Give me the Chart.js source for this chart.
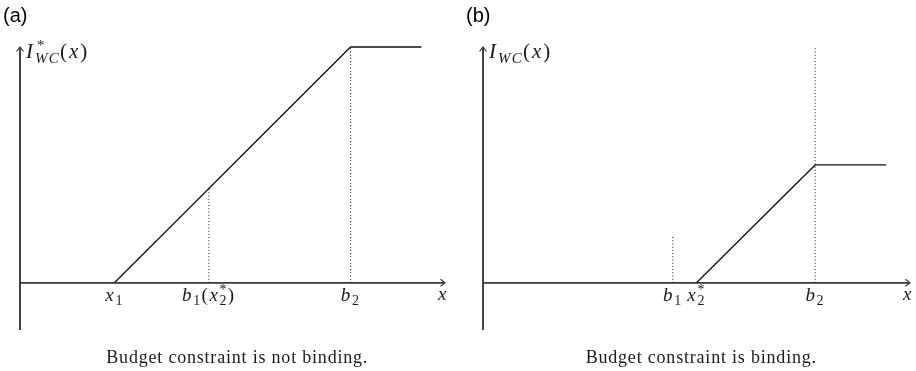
<!DOCTYPE html>
<html>
<head>
<meta charset="utf-8">
<script src="https://cdn.jsdelivr.net/npm/chart.js@4/dist/chart.umd.min.js"></script>
<style>
  body { margin: 0; background: #fff; width: 916px; height: 371px; position: relative; overflow: hidden; }
  .panel { position: absolute; top: 0; height: 371px; }
  #wrapA { left: 0; width: 463px; }
  #wrapB { left: 463px; width: 453px; }
</style>
</head>
<body>
<div class="panel" id="wrapA"><canvas id="graficaA" width="463" height="371"></canvas></div>
<div class="panel" id="wrapB"><canvas id="graficaB" width="453" height="371"></canvas></div>
<script>
// (a) budget constraint not binding
const curveAX = [2, 7, 8.5];
const curveAY = [0, 5, 5];
const guideAX = [4, 7];          // b1(x2*), b2
const guideAY = [2, 5];          // top of each dotted guide
const tickAX = [2, 4, 7];
const tickALabels = ['x_1', 'b_1(x_2^*)', 'b_2'];

// (b) budget constraint binding
const curveBX = [4.5, 7, 8.5];
const curveBY = [0, 2.5, 2.5];
const guideBX = [4, 7];          // b1, b2
const guideBY = [1, 5];
const tickBX = [4, 4.5, 7];
const tickBLabels = ['b_1', 'x_2^*', 'b_2'];

const SERIF = '"Liberation Serif", "DejaVu Serif", serif';
const SANS = '"Liberation Sans", Arial, sans-serif';

// tiny TeX-ish parser: letters italic, _ sub, ^ sup
function parseMath(str) {
    const out = [];
    let i = 0;
    const group = () => {
        if (str[i] === '{') {
            const j = str.indexOf('}', i);
            const g = str.slice(i + 1, j);
            i = j + 1;
            return g;
        }
        return str[i++];
    };
    while (i < str.length) {
        const c = str[i];
        if (c === '_' || c === '^') {
            i++;
            const g = group();
            const last = out[out.length - 1];
            if (c === '_') last.sub = g; else last.sup = g;
        } else {
            out.push({ t: c });
            i++;
        }
    }
    return out;
}

function fontFor(ch, size) {
    return (/[A-Za-z]/.test(ch) ? 'italic ' : '') + size + 'px ' + SERIF;
}

// glyphs get a little extra room, math fonts run wide
function glyphAdv(ctx, ch, size) {
    ctx.font = fontFor(ch, size);
    return ctx.measureText(ch).width + size * 0.09;
}

function runWidth(ctx, s, size) {
    let w = 0;
    for (const ch of s) w += glyphAdv(ctx, ch, size);
    return w;
}

function drawRun(ctx, s, x, y, size) {
    for (const ch of s) {
        const adv = glyphAdv(ctx, ch, size);
        ctx.fillText(ch, x, y);
        x += adv;
    }
    return x;
}

function layoutMath(ctx, str, size) {
    const small = Math.round(size * 0.72);
    let w = 0;
    const items = parseMath(str).map(tok => {
        const bw = runWidth(ctx, tok.t, size);
        const kern = tok.sup && /[A-Z]/.test(tok.t) ? size * 0.1 : 0;
        const subW = tok.sub ? runWidth(ctx, tok.sub, small) : 0;
        const supW = tok.sup ? runWidth(ctx, tok.sup, small) + kern : 0;
        const item = { tok, bw, kern, subW, supW, adv: bw + Math.max(subW, supW) };
        w += item.adv;
        return item;
    });
    return { items, w, small };
}

function drawMath(ctx, str, x, y, size, align) {
    const { items, w, small } = layoutMath(ctx, str, size);
    let cx = align === 'center' ? x - w / 2 : x;
    ctx.textBaseline = 'alphabetic';
    ctx.textAlign = 'left';
    for (const it of items) {
        drawRun(ctx, it.tok.t, cx, y, size);
        const sx = cx + it.bw;
        if (it.tok.sub) drawRun(ctx, it.tok.sub, sx, y + size * 0.22, small);
        if (it.tok.sup) drawRun(ctx, it.tok.sup, sx + it.kern, y - size * 0.38, small);
        cx += it.adv;
    }
}

function chevron(ctx, x, y, dir) {
    const a = 4.5, b = 3.5;
    ctx.beginPath();
    if (dir === 'right') {
        ctx.moveTo(x - a, y - b); ctx.lineTo(x, y); ctx.lineTo(x - a, y + b);
    } else {
        ctx.moveTo(x - b, y + a); ctx.lineTo(x, y); ctx.lineTo(x + b, y + a);
    }
    ctx.stroke();
}

// axes with arrowheads, tick labels, captions
const diagramPlugin = {
    id: 'diagram',
    beforeDatasetsDraw(chart, args, opts) {
        const { ctx, scales: { x, y } } = chart;
        const ox = x.getPixelForValue(0), oy = y.getPixelForValue(0);
        const xEnd = x.getPixelForValue(x.max), yTop = y.getPixelForValue(opts.yTop);
        ctx.save();
        ctx.strokeStyle = '#3a3a3a';
        ctx.lineWidth = 1.9;
        ctx.beginPath();
        ctx.moveTo(ox, oy); ctx.lineTo(xEnd, oy);
        ctx.moveTo(ox, y.getPixelForValue(y.min)); ctx.lineTo(ox, yTop);
        ctx.stroke();
        ctx.lineWidth = 1.2;
        chevron(ctx, xEnd, oy, 'right');
        chevron(ctx, ox, yTop, 'up');
        ctx.restore();
    },
    afterDraw(chart, args, opts) {
        const { ctx, scales: { x, y } } = chart;
        const oy = y.getPixelForValue(0);
        ctx.save();
        ctx.fillStyle = '#1a1a1a';
        opts.ticks.forEach((v, i) => drawMath(ctx, opts.tickLabels[i], x.getPixelForValue(v), oy + 18, 19, 'center'));
        drawMath(ctx, 'x', x.getPixelForValue(x.max) - 2, oy + 17, 19, 'center');
        drawMath(ctx, opts.yLabel, x.getPixelForValue(0) + 6, y.getPixelForValue(opts.yTop) + 11, 21, 'left');
        ctx.font = '18px ' + SERIF;
        ctx.letterSpacing = '0.8px';
        ctx.textAlign = 'center';
        ctx.fillText(opts.caption, x.getPixelForValue(4.6), 363);
        ctx.letterSpacing = '0px';
        ctx.font = '20px ' + SANS;
        ctx.textAlign = 'left';
        ctx.fillStyle = '#000';
        ctx.fillText(opts.tag, opts.tagX, 22);
        ctx.restore();
    }
};

function pts(xs, ys) { return xs.map((v, i) => ({ x: v, y: ys[i] })); }

function guides(xs, ys) {
    return xs.map((v, i) => ({
        data: [{ x: v, y: 0 }, { x: v, y: ys[i] }],
        borderColor: '#222',
        borderWidth: 1.1,
        borderDash: [1, 2.2],
        pointRadius: 0,
        showLine: true,
        clip: false
    }));
}

function makePanel(id, curve, guideSets, padRight, opts) {
    return new Chart(document.getElementById(id).getContext('2d'), {
        type: 'scatter',
        data: {
            datasets: [{
                data: curve,
                borderColor: '#111',
                borderWidth: 1.3,
                pointRadius: 0,
                showLine: true,
                clip: false
            }, ...guideSets]
        },
        options: {
            responsive: false,
            animation: false,
            devicePixelRatio: 1,
            layout: { padding: { left: 20, right: padRight, top: 47, bottom: 41 } },
            scales: {
                x: { type: 'linear', min: 0, max: 9, display: false },
                y: { type: 'linear', min: -1, max: 5, display: false }
            },
            plugins: {
                legend: { display: false },
                tooltip: { enabled: false },
                diagram: opts
            }
        },
        plugins: [diagramPlugin]
    });
}

const graficaA = makePanel('graficaA', pts(curveAX, curveAY), guides(guideAX, guideAY), 18, {
    yTop: 5, ticks: tickAX, tickLabels: tickALabels, yLabel: 'I^*_{WC}(x)',
    caption: 'Budget constraint is not binding.', tag: '(a)', tagX: 3
});

const graficaB = makePanel('graficaB', pts(curveBX, curveBY), guides(guideBX, guideBY), 6, {
    yTop: 5, ticks: tickBX, tickLabels: tickBLabels, yLabel: 'I_{WC}(x)',
    caption: 'Budget constraint is binding.', tag: '(b)', tagX: 3
});
</script>
</body>
</html>
